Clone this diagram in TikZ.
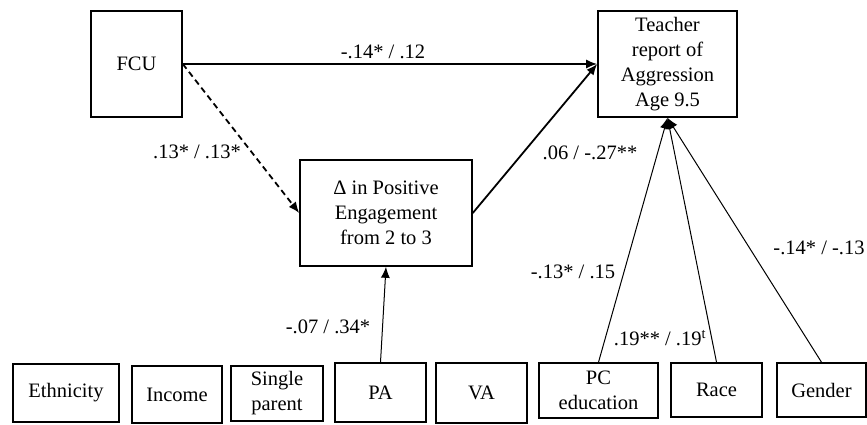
\documentclass[tikz,border=0pt]{standalone}
\usepackage{fontspec}
\setmainfont{Liberation Serif}
\usetikzlibrary{arrows.meta}
\begin{document}
\begin{tikzpicture}[x=1pt,y=-1pt,>={Latex[length=11pt,width=9pt]},
	box/.style={draw,line width=1.6pt,align=center,inner sep=0pt,font=\fontsize{20.5}{25}\selectfont},
	path/.style={line width=1.8pt},
	thin path/.style={line width=1pt},
	coef/.style={font=\fontsize{20.5}{25}\selectfont,inner sep=0pt}]
	\useasboundingbox (0,0) rectangle (867,424);
	% outcome and mediator
	\node[box,minimum width=91pt,minimum height=106pt]  (fcu)     at (136.5,64) {FCU};
	\node[box,minimum width=139pt,minimum height=106pt] (teacher) at (667.5,64) {Teacher\\report of\\Aggression\\Age 9.5};
	\node[box,minimum width=172pt,minimum height=106pt] (delta)   at (386,213)  {Δ in Positive\\Engagement\\from 2 to 3};
	% covariates
	\node[box,minimum width=106pt,minimum height=58pt] (ethnicity) at (66,393)    {Ethnicity};
	\node[box,minimum width=90pt,minimum height=57pt]  (income)    at (177,394.5) {Income};
	\node[box,minimum width=92pt,minimum height=55pt]  (single)    at (277,393.5) {Single\\parent};
	\node[box,minimum width=91pt,minimum height=59pt]  (pa)        at (380.5,392.5) {PA};
	\node[box,minimum width=91pt,minimum height=60pt]  (va)        at (481.5,393) {VA};
	\node[box,minimum width=119pt,minimum height=55pt] (pcedu)     at (598.5,390.5) {PC\\education};
	\node[box,minimum width=91pt,minimum height=54pt]  (race)      at (716.5,390) {Race};
	\node[box,minimum width=89pt,minimum height=54pt]  (gender)    at (821.5,390) {Gender};

	\draw[path,->] (fcu.east) -- (teacher.west);
	\draw[path,->,dashed,dash pattern=on 6pt off 4pt] (fcu.east) -- (delta.west);
	\draw[path,->] (delta.east) -- (teacher.west);
	\draw[thin path,->] (pa.north) -- (delta.south);
	\draw[thin path,->] (pcedu.north) -- (teacher.south);
	\draw[thin path,->] (race.north) -- (teacher.south);
	\draw[thin path,->] (gender.north) -- (teacher.south);

	\node[coef] (c1) at (383,52)  {-.14* / .12};
	\node[coef] (c2) at (197,152) {.13* / .13*};
	\node[coef] (c3) at (590,153) {.06 / -.27**};
	\node[coef] (c4) at (328,327) {-.07 / .34*};
	\node[coef] (c5) at (573,272) {-.13* / .15};
	\node[coef] (c6) at (660,338) {.19** / .19\textsuperscript{t}};
	\node[coef] (c7) at (819,248) {-.14* / -.13};
\end{tikzpicture}
\end{document}
